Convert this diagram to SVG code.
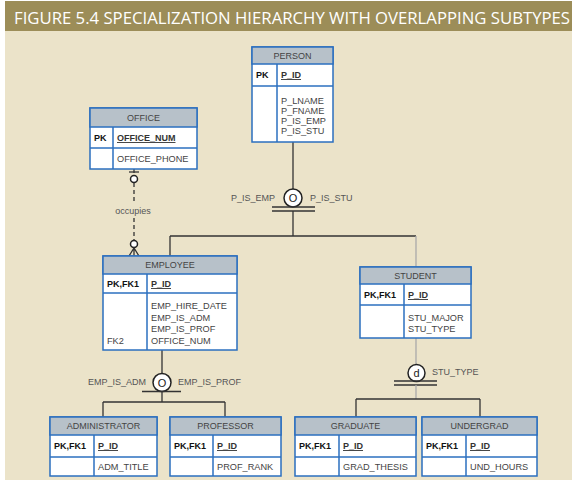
<svg xmlns="http://www.w3.org/2000/svg" width="578" height="480" viewBox="0 0 578 480">
<style>
.box{fill:#ffffff;stroke:#2b6fbf;stroke-width:1.5}
.hdr{fill:#b7c1c9;stroke:#2b6fbf;stroke-width:1.5}
.in{stroke:#2b6fbf;stroke-width:1.5;fill:none}
.ht{font-family:"Liberation Sans",Arial,sans-serif;font-size:9px;fill:#444;text-anchor:middle}
.pk{font-family:"Liberation Sans",Arial,sans-serif;font-size:9px;fill:#111;font-weight:bold}
.key{font-family:"Liberation Sans",Arial,sans-serif;font-size:9px;fill:#333;text-decoration:underline;font-weight:bold}
.at{font-family:"Liberation Sans",Arial,sans-serif;font-size:9.2px;fill:#444}
.lbl{font-family:"Liberation Sans",Arial,sans-serif;font-size:9px;fill:#555}
.ln{stroke:#333;stroke-width:1.3;fill:none}
.lg{stroke:#aaa;stroke-width:1.3;fill:none}
.sym{fill:#fff;stroke:#222;stroke-width:1.5}
.st{font-family:"Liberation Sans",Arial,sans-serif;font-size:11px;fill:#222;text-anchor:middle}
</style>
<rect x="0" y="0" width="578" height="480" fill="#ffffff"/>
<rect x="5" y="30" width="567" height="450" fill="#ebe3c9"/>
<rect x="5" y="1" width="567" height="30" fill="#9c8d58"/>
<text x="14" y="24" font-family="'Open Sans','Noto Sans',sans-serif" font-size="16" font-weight="400" fill="#ffffff" textLength="556" lengthAdjust="spacingAndGlyphs">FIGURE 5.4  SPECIALIZATION HIERARCHY WITH OVERLAPPING SUBTYPES</text>

<g id="connectors">
  <line class="ln" x1="293" y1="142" x2="293" y2="189"/>
  <circle class="sym" cx="293" cy="198" r="9"/>
  <text class="st" x="293" y="202">O</text>
  <line class="ln" x1="272" y1="207" x2="315" y2="207"/>
  <line class="ln" x1="272" y1="211" x2="315" y2="211"/>
  <line class="ln" x1="293" y1="211" x2="293" y2="236"/>
  <line class="ln" x1="170" y1="236" x2="416" y2="236"/>
  <line class="ln" x1="170" y1="236" x2="170" y2="256"/>
  <line class="lg" x1="416" y1="236" x2="416" y2="267"/>
  <text class="lbl" x="275" y="201" text-anchor="end">P_IS_EMP</text>
  <text class="lbl" x="310" y="201">P_IS_STU</text>

  <line class="ln" x1="134" y1="169" x2="134" y2="204" stroke-dasharray="4,3"/>
  <line class="ln" x1="134" y1="218" x2="134" y2="249" stroke-dasharray="4,3"/>
  <line class="ln" x1="129" y1="172" x2="139" y2="172"/>
  <circle class="sym" cx="134" cy="179" r="3.5"/>
  <circle class="sym" cx="134" cy="244" r="3.5"/>
  <path class="ln" d="M129,256 L134,248 L139,256 M134,248 L134,256"/>
  <text class="lbl" x="133" y="214" text-anchor="middle" font-size="8.5">occupies</text>

  <line class="ln" x1="162" y1="350" x2="162" y2="373.5"/>
  <circle class="sym" cx="162" cy="382.5" r="9"/>
  <text class="st" x="162" y="386.5">O</text>
  <line class="ln" x1="142" y1="391.5" x2="181" y2="391.5" stroke-width="2"/>
  <line class="ln" x1="162" y1="391.5" x2="162" y2="402"/>
  <line class="ln" x1="103" y1="402" x2="225" y2="402"/>
  <line class="ln" x1="103" y1="402" x2="103" y2="417"/>
  <line class="ln" x1="225" y1="402" x2="225" y2="417"/>
  <text class="lbl" x="146" y="385" text-anchor="end">EMP_IS_ADM</text>
  <text class="lbl" x="178" y="385">EMP_IS_PROF</text>

  <line class="lg" x1="416" y1="338" x2="416" y2="364.5"/>
  <circle class="sym" cx="416.5" cy="373" r="8.5"/>
  <text class="st" x="416.5" y="377">d</text>
  <line class="ln" x1="394" y1="381" x2="437" y2="381"/>
  <line class="ln" x1="394" y1="385" x2="437" y2="385"/>
  <line class="lg" x1="416" y1="385" x2="416" y2="399"/>
  <line class="ln" x1="356" y1="399" x2="480" y2="399"/>
  <line class="ln" x1="356" y1="399" x2="356" y2="417"/>
  <line class="ln" x1="480" y1="399" x2="480" y2="417"/>
  <text class="lbl" x="432" y="375">STU_TYPE</text>
</g>

<g id="person">
  <rect class="box" x="252" y="47" width="81" height="95"/>
  <rect class="hdr" x="252" y="47" width="81" height="17"/>
  <line class="in" x1="252" y1="86" x2="333" y2="86"/>
  <line class="in" x1="277" y1="64" x2="277" y2="142"/>
  <text class="ht" x="292.5" y="59">PERSON</text>
  <text class="pk" x="256" y="78">PK</text>
  <text class="key" x="281" y="78">P_ID</text>
  <text class="at" x="281" y="103.5">P_LNAME</text>
  <text class="at" x="281" y="113.5">P_FNAME</text>
  <text class="at" x="281" y="123.5">P_IS_EMP</text>
  <text class="at" x="281" y="133.5">P_IS_STU</text>
</g>

<g id="office">
  <rect class="box" x="90" y="108" width="107" height="61"/>
  <rect class="hdr" x="90" y="108" width="107" height="19"/>
  <line class="in" x1="90" y1="148" x2="197" y2="148"/>
  <line class="in" x1="113" y1="127" x2="113" y2="169"/>
  <text class="ht" x="143.5" y="121">OFFICE</text>
  <text class="pk" x="94" y="141">PK</text>
  <text class="key" x="117" y="141">OFFICE_NUM</text>
  <text class="at" x="117" y="162">OFFICE_PHONE</text>
</g>

<g id="employee">
  <rect class="box" x="103" y="256" width="134" height="94"/>
  <rect class="hdr" x="103" y="256" width="134" height="18"/>
  <line class="in" x1="103" y1="293" x2="237" y2="293"/>
  <line class="in" x1="147" y1="274" x2="147" y2="350"/>
  <text class="ht" x="170" y="268">EMPLOYEE</text>
  <text class="pk" x="107" y="287">PK,FK1</text>
  <text class="key" x="151" y="287">P_ID</text>
  <text class="at" x="151" y="309">EMP_HIRE_DATE</text>
  <text class="at" x="151" y="320.5">EMP_IS_ADM</text>
  <text class="at" x="151" y="332">EMP_IS_PROF</text>
  <text class="at" x="151" y="343.5">OFFICE_NUM</text>
  <text class="at" x="107" y="343.5">FK2</text>
</g>

<g id="student">
  <rect class="box" x="360" y="267" width="111" height="71"/>
  <rect class="hdr" x="360" y="267" width="111" height="17"/>
  <line class="in" x1="360" y1="305" x2="471" y2="305"/>
  <line class="in" x1="404" y1="284" x2="404" y2="338"/>
  <text class="ht" x="415.5" y="279">STUDENT</text>
  <text class="pk" x="364" y="298">PK,FK1</text>
  <text class="key" x="408" y="298">P_ID</text>
  <text class="at" x="408" y="321">STU_MAJOR</text>
  <text class="at" x="408" y="332">STU_TYPE</text>
</g>

<g id="administrator">
  <rect class="box" x="50" y="417" width="107" height="59"/>
  <rect class="hdr" x="50" y="417" width="107" height="18"/>
  <line class="in" x1="50" y1="457" x2="157" y2="457"/>
  <line class="in" x1="94" y1="435" x2="94" y2="476"/>
  <text class="ht" x="103.5" y="429">ADMINISTRATOR</text>
  <text class="pk" x="54" y="449">PK,FK1</text>
  <text class="key" x="98" y="449">P_ID</text>
  <text class="at" x="98" y="470">ADM_TITLE</text>
</g>

<g id="professor">
  <rect class="box" x="170" y="417" width="111" height="59"/>
  <rect class="hdr" x="170" y="417" width="111" height="18"/>
  <line class="in" x1="170" y1="457" x2="281" y2="457"/>
  <line class="in" x1="213" y1="435" x2="213" y2="476"/>
  <text class="ht" x="225.5" y="429">PROFESSOR</text>
  <text class="pk" x="174" y="449">PK,FK1</text>
  <text class="key" x="217" y="449">P_ID</text>
  <text class="at" x="217" y="470">PROF_RANK</text>
</g>

<g id="graduate">
  <rect class="box" x="295" y="417" width="121" height="59"/>
  <rect class="hdr" x="295" y="417" width="121" height="18"/>
  <line class="in" x1="295" y1="457" x2="416" y2="457"/>
  <line class="in" x1="339" y1="435" x2="339" y2="476"/>
  <text class="ht" x="355.5" y="429">GRADUATE</text>
  <text class="pk" x="299" y="449">PK,FK1</text>
  <text class="key" x="343" y="449">P_ID</text>
  <text class="at" x="343" y="470">GRAD_THESIS</text>
</g>

<g id="undergrad">
  <rect class="box" x="422" y="417" width="115" height="59"/>
  <rect class="hdr" x="422" y="417" width="115" height="18"/>
  <line class="in" x1="422" y1="457" x2="537" y2="457"/>
  <line class="in" x1="466" y1="435" x2="466" y2="476"/>
  <text class="ht" x="479.5" y="429">UNDERGRAD</text>
  <text class="pk" x="426" y="449">PK,FK1</text>
  <text class="key" x="470" y="449">P_ID</text>
  <text class="at" x="470" y="470">UND_HOURS</text>
</g>
</svg>
